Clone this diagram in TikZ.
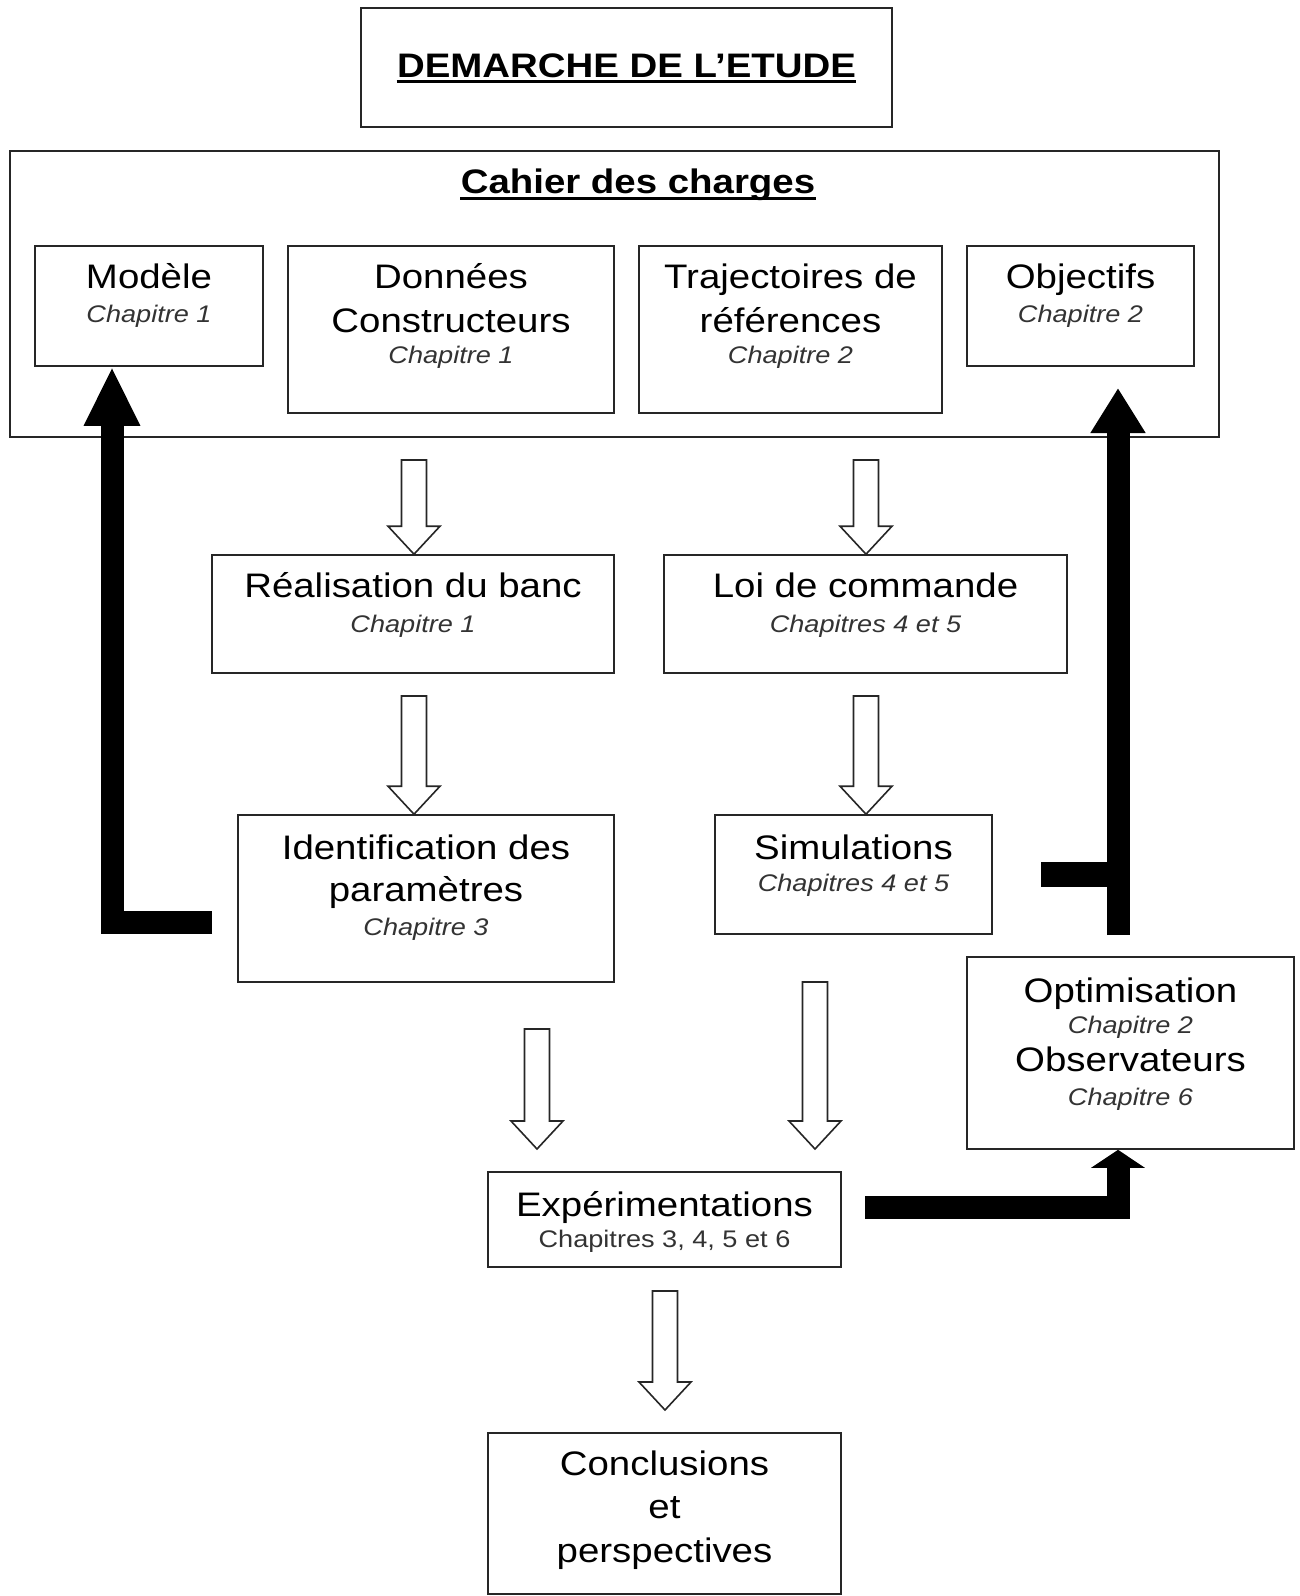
\documentclass[tikz,border=0pt]{standalone}
\usepackage{fontspec}
\setmainfont[FakeStretch=1.13]{Liberation Sans}
\usetikzlibrary{arrows.meta,fit,calc}
\tikzset{
 box/.style={draw=black!85, line width=0.8pt, inner sep=0pt},
 mtxt/.style={font=\fontsize{17pt}{20pt}\selectfont, anchor=base, inner sep=0pt},
 btxt/.style={font=\fontsize{17pt}{20pt}\selectfont\bfseries, anchor=base, inner sep=0pt},
 ctxt/.style={font=\fontsize{12pt}{14pt}\selectfont\itshape, text=black!80, anchor=base, inner sep=0pt},
 utxt/.style={font=\fontsize{12pt}{14pt}\selectfont, text=black!80, anchor=base, inner sep=0pt},
 hollow/.style={draw=black!85, line width=0.8pt, fill=white, line join=miter},
 fat/.style={line width=11.5pt, line join=miter, line cap=butt},
 uline/.style={line width=1.5pt},
}
\newcommand\blockarrow[2]{\draw[hollow] let \p1=#1, \p2=#2 in
  (\x1-6.25pt,\y1) -- (\x1+6.25pt,\y1) -- (\x1+6.25pt,\y2+14pt) -- (\x1+13pt,\y2+14pt)
  -- (\x1,\y2) -- (\x1-13pt,\y2+14pt) -- (\x1-6.25pt,\y2+14pt) -- cycle;}
\begin{document}
\begin{tikzpicture}[x=0.5pt,y=-0.5pt]
\fill[white] (0,0) rectangle (1300,1596);
\useasboundingbox (0,0) rectangle (1300,1596);
% title
\node[box, fit={(361,8)(892,127)}] (title) {};
\node[btxt] (ttl) at (626.5,77) {DEMARCHE DE L’ETUDE};
\draw[uline] ([yshift=-2pt]ttl.base west) -- ([yshift=-2pt]ttl.base east);
% cahier des charges
\node[box, fit={(10,151)(1219,437)}] (cdc) {};
\node[btxt] (cdct) at (638,193) {Cahier des charges};
\draw[uline] ([yshift=-2.5pt]cdct.base west) -- ([yshift=-2.5pt]cdct.base east);
\node[box, fit={(35,246)(263,366)}] (mod) {};
\node[mtxt] (modt) at (149,288) {Modèle};
\node[ctxt] (modc) at (149,322) {Chapitre 1};
\node[box, fit={(288,246)(614,413)}] (don) {};
\node[mtxt] (dont1) at (451,288) {Données};
\node[mtxt] (dont2) at (451,332) {Constructeurs};
\node[ctxt] (donc) at (451,363) {Chapitre 1};
\node[box, fit={(639,246)(942,413)}] (traj) {};
\node[mtxt] (trajt1) at (790.5,288) {Trajectoires de};
\node[mtxt] (trajt2) at (790.5,332) {références};
\node[ctxt] (trajc) at (790.5,363) {Chapitre 2};
\node[box, fit={(967,246)(1194,366)}] (obj) {};
\node[mtxt] (objt) at (1080.5,288) {Objectifs};
\node[ctxt] (objc) at (1080.5,322) {Chapitre 2};
% second row
\node[box, fit={(212,555)(614,673)}] (real) {};
\node[mtxt] (realt) at (413,597) {Réalisation du banc};
\node[ctxt] (realc) at (413,632) {Chapitre 1};
\node[box, fit={(664,555)(1067,673)}] (loi) {};
\node[mtxt] (loit) at (865.5,597) {Loi de commande};
\node[ctxt] (loic) at (865.5,632) {Chapitres 4 et 5};
% third row
\node[box, fit={(238,815)(614,982)}] (ident) {};
\node[mtxt] (identt1) at (426,859) {Identification des};
\node[mtxt] (identt2) at (426,901) {paramètres};
\node[ctxt] (identc) at (426,935) {Chapitre 3};
\node[box, fit={(715,815)(992,934)}] (sim) {};
\node[mtxt] (simt) at (853.5,859) {Simulations};
\node[ctxt] (simc) at (853.5,891) {Chapitres 4 et 5};
% optimisation
\node[box, fit={(967,957)(1294,1149)}] (opt) {};
\node[mtxt] (optt) at (1130.5,1002) {Optimisation};
\node[ctxt] (optc) at (1130.5,1033) {Chapitre 2};
\node[mtxt] (obst) at (1130.5,1071) {Observateurs};
\node[ctxt] (obsc) at (1130.5,1105) {Chapitre 6};
% experimentations
\node[box, fit={(488,1172)(841,1267)}] (exp) {};
\node[mtxt] (expt) at (664.5,1216) {Expérimentations};
\node[utxt] (expc) at (664.5,1247) {Chapitres 3, 4, 5 et 6};
% conclusions
\node[box, fit={(488,1433)(841,1594)}] (concl) {};
\node[mtxt] (conclt1) at (664.5,1475) {Conclusions};
\node[mtxt] (conclt2) at (664.5,1518) {et};
\node[mtxt] (conclt3) at (664.5,1562) {perspectives};
% hollow arrows
\coordinate (a1) at (414,460);
\coordinate (a2) at (866,460);
\coordinate (a3) at (414,696);
\coordinate (a4) at (866,696);
\coordinate (a5) at (537,1029);
\coordinate (a5tip) at (537,1149);
\coordinate (a6) at (815,982);
\coordinate (a6tip) at (815,1149);
\coordinate (a7) at (665,1291);
\coordinate (a7tip) at (665,1410);
\blockarrow{(a1)}{(a1 |- real.north)}
\blockarrow{(a2)}{(a2 |- loi.north)}
\blockarrow{(a3)}{(a3 |- ident.north)}
\blockarrow{(a4)}{(a4 |- sim.north)}
\blockarrow{(a5)}{(a5tip)}
\blockarrow{(a6)}{(a6tip)}
\blockarrow{(a7)}{(a7tip)}
% thick feedback arrows
\coordinate (fbL) at (212,922.5);
\coordinate (fbLx) at (112,0);
\draw[fat, -{Triangle[length=29.5pt 0, width=26pt 0]}] (fbL) -| (fbLx |- mod.south);
\coordinate (fbRbot) at (1118,935);
\coordinate (fbRtip) at (1118,388);
\coordinate (fbRstub) at (1041,874.5);
\draw[fat, -{Triangle[length=22.5pt 0, width=26pt 0]}] (fbRbot) -- (fbRtip);
\draw[fat, line width=12.5pt] (fbRstub) -- (fbRstub -| fbRbot);
\coordinate (fbB) at (865,1207.5);
\draw[fat, -{Triangle[length=9pt 0, width=26.5pt 0]}] (fbB) -| (opt.south -| fbRbot);
\end{tikzpicture}
\end{document}
